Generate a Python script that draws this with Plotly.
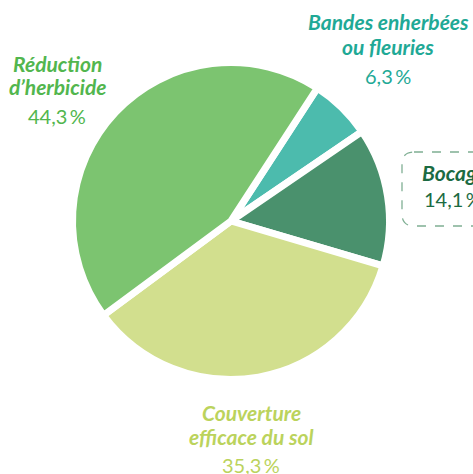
import re
import plotly.graph_objects as go

W, H = 473, 474

labels = ["Bandes enherbées ou fleuries", "Bocage", "Couverture efficace du sol", "Réduction d’herbicide"]
values = [6.3, 14.1, 35.3, 44.3]
pct_text = ["6,3\u2009%", "14,1\u2009%", "35,3\u2009%", "44,3\u2009%"]
slice_colors = ["#4CBBAD", "#4A916D", "#D2DF8E", "#7CC470"]
text_colors = ["#1FA996", "#1B6B42", "#BBD35C", "#52B64E"]
name_lines = [["Bandes enherbées", "ou fleuries"], ["Bocage"], ["Couverture", "efficace du sol"], ["Réduction", "d’herbicide"]]


def px(x):
    return x / W


def py(y):
    return 1 - y / H


cx, cy, R = 231, 221, 158.5

fig = go.Figure(go.Pie(
    labels=labels, values=values, sort=False, direction="clockwise", rotation=33,
    marker=dict(colors=slice_colors, line=dict(color="white", width=7)),
    textinfo="none", hoverinfo="none", showlegend=False,
    domain=dict(x=[px(cx - R), px(cx + R)], y=[py(cy + R), py(cy - R)]),
))

# (x centre or left, baseline of first line, line step, percent gap, align)
placements = [
    (388, 29, 24, 30, "center"),
    (420, 179, 24, 27, "left"),
    (251, 419, 24, 29, "center"),
    (57, 70, 23, 30, "center"),
]
ann = []
for i, (x, base, step, gap, al) in enumerate(placements):
    lines = name_lines[i]
    xa = "left" if al == "left" else "center"
    for j, ln in enumerate(lines):
        b = base + j * step
        ann.append(dict(x=px(x), y=py(b - 7), xref="paper", yref="paper", text=f"<b><i>{ln}</i></b>",
                        showarrow=False, xanchor=xa, yanchor="middle",
                        font=dict(family="Lato", size=21, color=text_colors[i])))
    b = base + (len(lines) - 1) * step + gap
    ann.append(dict(x=px(x + (2 if al == "left" else 0)), y=py(b - 7), xref="paper", yref="paper", text=pct_text[i],
                    showarrow=False, xanchor=xa, yanchor="middle",
                    font=dict(family="Lato", size=20, color=text_colors[i])))


def conv(path):
    out = []
    for t in re.findall(r"[MLQZ]|[-\d.]+,[-\d.]+", path):
        if "," in t:
            a, b = t.split(",")
            out.append(f"{px(float(a)):.5f},{py(float(b)):.5f}")
        else:
            out.append(t)
    return " ".join(out)


box_path = conv("M 414,152 L 500,152 L 500,226 L 414,226 Q 402,226 402,214 L 402,164 Q 402,152 414,152 Z")

fig.update_layout(
    width=W, height=H, margin=dict(l=0, r=0, t=0, b=0),
    paper_bgcolor="white", plot_bgcolor="white",
    annotations=ann,
    shapes=[dict(type="path", xref="paper", yref="paper", path=box_path,
                 line=dict(color="#7FAF93", width=1.3, dash="dash"))],
)

fig.write_html("out.html", config={"displayModeBar": False},
               post_script="document.body.style.margin='0';document.body.style.overflow='hidden';")
